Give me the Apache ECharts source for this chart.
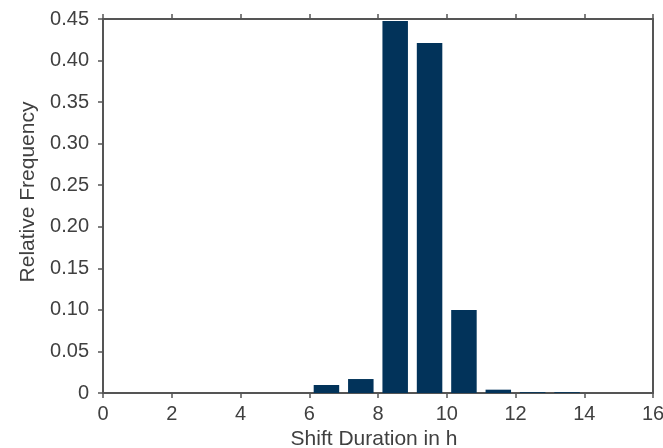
<!DOCTYPE html>
<html>
<head>
<meta charset="utf-8">
<script src="https://cdn.jsdelivr.net/npm/echarts@6/dist/echarts.min.js"></script>
<style>
  html, body { margin: 0; padding: 0; background: #fff; }
  #chart { width: 663px; height: 448px; }
</style>
</head>
<body>
<div id="chart"></div>
<script>
// histogram bins: left edge of each 1h bin
var binStarts = [0, 1, 2, 3, 4, 5, 6, 7, 8, 9, 10, 11, 12, 13, 14, 15];
var relFreq = [0, 0, 0, 0, 0, 0, 0.0096, 0.0168, 0.4476, 0.421, 0.100, 0.004, 0.001, 0.001, 0, 0];
var xTicks = [0, 2, 4, 6, 8, 10, 12, 14, 16];
var yTicks = [0, 0.05, 0.10, 0.15, 0.20, 0.25, 0.30, 0.35, 0.40, 0.45];

var textColor = '#404040';
var lineColor = '#555555';
var font = 'Liberation Sans, Arial, sans-serif';

var box = echarts.init(document.getElementById('chart'));

var barData = binStarts.map(function (b, i) {
    return [b + 0.5, relFreq[i]];
});

var option = {
    backgroundColor: '#ffffff',
    animation: false,
    grid: {
        left: 103,
        right: 10,
        top: 19,
        bottom: 55,
        containLabel: false,
        outerBoundsMode: 'none'
    },
    xAxis: [{
        type: 'value',
        min: xTicks[0],
        max: xTicks[xTicks.length - 1],
        interval: 2,
        position: 'bottom',
        name: 'Shift Duration in h',
        nameLocation: 'middle',
        nameGap: 30,
        nameTextStyle: { color: textColor, fontSize: 21, fontFamily: font, padding: [0, 8, 0, 0] },
        axisLine: { show: true, onZero: false, lineStyle: { color: lineColor, width: 2 } },
        axisTick: { show: true, inside: false, length: 5, lineStyle: { color: lineColor, width: 1.5 } },
        axisLabel: { color: textColor, fontSize: 20, fontFamily: font, margin: 11 },
        splitLine: { show: false }
    }, {
        type: 'value',
        min: xTicks[0],
        max: xTicks[xTicks.length - 1],
        interval: 2,
        position: 'top',
        axisLine: { show: true, onZero: false, lineStyle: { color: lineColor, width: 2 } },
        axisTick: { show: true, inside: false, length: 5, lineStyle: { color: lineColor, width: 1.5 } },
        axisLabel: { show: false },
        splitLine: { show: false }
    }],
    yAxis: [{
        type: 'value',
        min: 0,
        max: yTicks[yTicks.length - 1],
        interval: 0.05,
        position: 'left',
        name: 'Relative Frequency',
        nameLocation: 'middle',
        nameGap: 64,
        nameTextStyle: { color: textColor, fontSize: 21, fontFamily: font, padding: [0, 0, 0, 28] },
        axisLine: { show: true, onZero: false, lineStyle: { color: lineColor, width: 2 } },
        axisTick: { show: true, inside: false, length: 5, lineStyle: { color: lineColor, width: 1.5 } },
        axisLabel: {
            color: textColor, fontSize: 20, fontFamily: font, margin: 14,
            formatter: function (v) {
                return v === 0 ? '0' : v.toFixed(2);
            }
        },
        splitLine: { show: false }
    }, {
        type: 'value',
        min: 0,
        max: yTicks[yTicks.length - 1],
        interval: 0.05,
        position: 'right',
        axisLine: { show: true, onZero: false, lineStyle: { color: lineColor, width: 2 } },
        axisTick: { show: false },
        axisLabel: { show: false },
        splitLine: { show: false }
    }],
    series: [{
        type: 'bar',
        xAxisIndex: 0,
        yAxisIndex: 0,
        barWidth: 25.5,
        data: barData,
        itemStyle: { color: '#02335A' }
    }]
};

box.setOption(option);
</script>
</body>
</html>
